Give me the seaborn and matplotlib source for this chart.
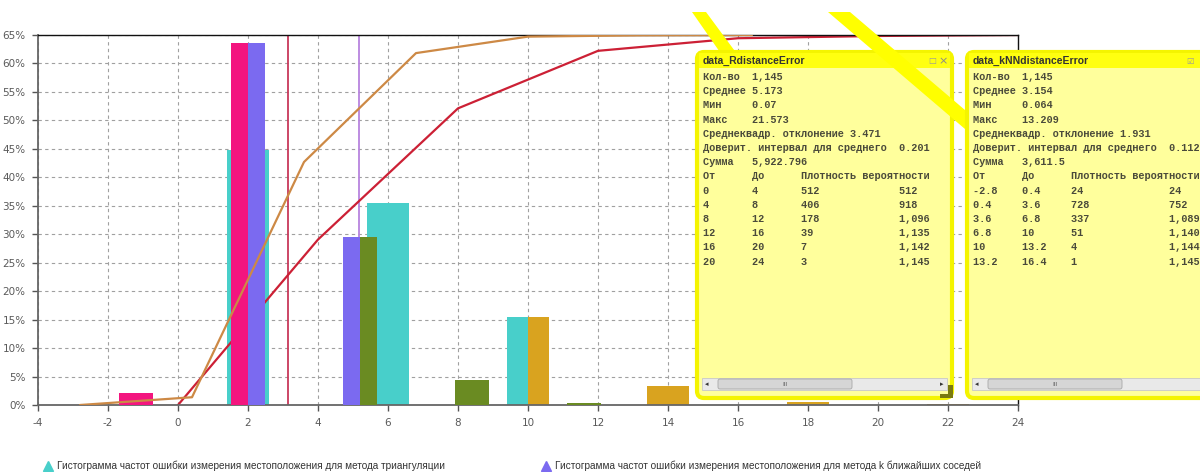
import numpy as np
import pandas as pd
import matplotlib
matplotlib.use("Agg")
import matplotlib.pyplot as plt
import seaborn as sns
from matplotlib.patches import FancyBboxPatch, Rectangle, Polygon
from matplotlib.lines import Line2D

# --- data ---
total = 1145
tri_edges = [0, 4, 8, 12, 16, 20, 24]
tri_counts = [512, 406, 178, 39, 7, 3]
knn_edges = [-2.8, 0.4, 3.6, 6.8, 10, 13.2, 16.4]
knn_counts = [24, 728, 337, 51, 4, 1]
tri_mean = 5.173
knn_mean = 3.154
y_top = 65

tri_name = "data_RdistanceError"
tri_stats = ["1,145", "5.173", "0.07", "21.573", "3.471", "0.201", "5,922.796"]
knn_name = "data_kNNdistanceError"
knn_stats = ["1,145", "3.154", "0.064", "13.209", "1.931", "0.112", "3,611.5"]

x_ticks = list(range(-4, 25, 2))
y_ticks = list(range(0, 66, 5))

legend_labels = [
    "Гистограмма частот ошибки измерения местоположения для метода триангуляции",
    "Гистограмма частот ошибки измерения местоположения для метода k ближайших соседей",
]

# colours of the left / right halves of each bar
CYAN, GOLD = "#48CFCA", "#D9A31F"
PINK, PURPLE, OLIVE = "#F3157F", "#7B6AF0", "#6A8B22"
tri_left = [CYAN, CYAN, CYAN, GOLD, GOLD, GOLD]
tri_right = [CYAN, CYAN, GOLD, GOLD, GOLD, GOLD]
knn_left = [PINK, PINK, PURPLE, OLIVE, OLIVE, OLIVE]
knn_right = [PINK, PURPLE, OLIVE, OLIVE, OLIVE, OLIVE]

W, H = 1200, 472

sns.set_theme(style="ticks")
plt.rcParams["font.family"] = ["DejaVu Sans"]
plt.rcParams["axes.unicode_minus"] = False

fig = plt.figure(figsize=(W / 100, H / 100), dpi=100)
ax = fig.add_axes([38 / W, 1 - 405 / H, 980 / W, 370 / H])


def hist_frame(edges, counts):
    e = np.array(edges, dtype=float)
    c = np.array(counts, dtype=float)
    return pd.DataFrame({
        "center": (e[:-1] + e[1:]) / 2,
        "width": np.diff(e) * 0.3,
        "pct": c / total * 100,
    })


def cum_frame(edges, counts):
    cum = np.concatenate([[0], np.cumsum(counts)])
    return pd.DataFrame({"x": edges, "y": cum / total * y_top})


tri = hist_frame(tri_edges, tri_counts)
knn = hist_frame(knn_edges, knn_counts)

# mean lines
ax.axvline(knn_mean, color="#C8385A", lw=1.3, zorder=1.5)
ax.axvline(tri_mean, color="#B783DE", lw=1.3, zorder=1.5)

# triangulation histogram (behind)
ax.bar(tri["center"] - tri["width"] / 4, tri["pct"], width=tri["width"] / 2,
       color=tri_left, zorder=2, linewidth=0)
ax.bar(tri["center"] + tri["width"] / 4, tri["pct"], width=tri["width"] / 2,
       color=tri_right, zorder=2, linewidth=0)

# cumulative curve of triangulation
sns.lineplot(data=cum_frame(tri_edges, tri_counts), x="x", y="y", ax=ax,
             color="#CC2035", lw=1.6, zorder=2.5, legend=False)

# kNN histogram
ax.bar(knn["center"] - knn["width"] / 4, knn["pct"], width=knn["width"] / 2,
       color=knn_left, zorder=3, linewidth=0)
ax.bar(knn["center"] + knn["width"] / 4, knn["pct"], width=knn["width"] / 2,
       color=knn_right, zorder=3, linewidth=0)

# cumulative curve of kNN
sns.lineplot(data=cum_frame(knn_edges, knn_counts), x="x", y="y", ax=ax,
             color="#CD8945", lw=1.6, zorder=4, legend=False)

ax.set_xlim(-4, 24)
ax.set_ylim(0, y_top)
ax.set_xticks(x_ticks)
ax.set_yticks(y_ticks)
ax.set_yticklabels([f"{v}%" for v in y_ticks])
ax.set_xlabel("")
ax.set_ylabel("")
ax.grid(True, color="#A0A0A0", linestyle=(0, (3, 3)), lw=0.8)
ax.set_axisbelow(True)
ax.tick_params(axis="both", labelsize=7.5, labelcolor="#5A5A5A", color="#555555",
               length=4, width=1, direction="out", pad=5)
for side in ["left", "bottom"]:
    ax.spines[side].set_color("#666666")
    ax.spines[side].set_linewidth(1.3)
for side in ["top", "right"]:
    ax.spines[side].set_color("#111111")
    ax.spines[side].set_linewidth(1.0)


# --- overlay: stat panels with pointers (pixel coords, y from top) ---
tr = fig.dpi_scale_trans


def P(x, y):
    return (x / 100, (H - y) / 100)


def band(pts, z):
    fig.add_artist(Polygon([P(*p) for p in pts], closed=True, transform=tr,
                           facecolor="#FFFF00", edgecolor="none", zorder=z))


def panel(x0, y0, x1, y1, title, stats, edges, counts, z):
    fig.add_artist(FancyBboxPatch(P(x0, y1), (x1 - x0) / 100, (y1 - y0) / 100,
                                  boxstyle="round,pad=0,rounding_size=0.07",
                                  transform=tr, facecolor="#FFFF9C",
                                  edgecolor="#F4F400", lw=3, zorder=z))
    fig.add_artist(Rectangle(P(x0 + 2, 68), (x1 - x0 - 4) / 100, 15 / 100,
                             transform=tr, facecolor="#FFFF10", edgecolor="none",
                             zorder=z + 0.1))
    fig.text(*P(x0 + 6, 61), title, transform=tr, fontsize=7.5, weight="bold",
             color="#333333", va="center", zorder=z + 0.2,
             family=["Liberation Sans"])
    labels = ["Кол-во", "Среднее", "Мин", "Макс"]
    lines = [f"{lab:<8}{val}" for lab, val in zip(labels, stats[:4])]
    lines.append(f"Среднеквадр. отклонение {stats[4]}")
    lines.append(f"Доверит. интервал для среднего  {stats[5]}")
    lines.append(f"{'Сумма':<8}{stats[6]}")
    lines.append(f"{'От':<8}{'До':<8}Плотность вероятности")
    cum = np.cumsum(counts)
    for i, c in enumerate(counts):
        lines.append(f"{edges[i]:<8g}{edges[i + 1]:<8g}{c:<16}{cum[i]:,}")
    for i, s in enumerate(lines):
        fig.text(*P(x0 + 6, 77 + i * 14.2), s, transform=tr, fontsize=7.4,
                 family=["Liberation Mono"], weight="bold", color="#4A4A3A",
                 va="center", zorder=z + 0.2)
    # scrollbar
    fig.add_artist(Rectangle(P(x0 + 5, 390), (x1 - x0 - 10) / 100, 12 / 100,
                             transform=tr, facecolor="#E9E9E9", edgecolor="#C8C8C8",
                             lw=0.6, zorder=z + 0.1))
    fig.add_artist(FancyBboxPatch(P(x0 + 21, 389), 134 / 100, 10 / 100,
                                  boxstyle="round,pad=0,rounding_size=0.02",
                                  transform=tr, facecolor="#D6D6D6",
                                  edgecolor="#A8A8A8", lw=0.6, zorder=z + 0.15))
    fig.text(*P(x0 + 88, 384), "III", transform=tr, fontsize=4.5, color="#666666",
             ha="center", va="center", zorder=z + 0.2)
    fig.text(*P(x0 + 10, 384), "◂", transform=tr, fontsize=5, color="#333333",
             ha="center", va="center", zorder=z + 0.2)
    if x1 - 10 < W - 6:
        fig.text(*P(x1 - 10, 384), "▸", transform=tr, fontsize=5, color="#333333",
                 ha="center", va="center", zorder=z + 0.2)


band([(692, 12), (706, 12), (740, 58), (724, 58)], 1)
panel(697, 52, 952, 398, tri_name, tri_stats, tri_edges, tri_counts, 2)
fig.text(*P(932, 61), "□", transform=tr, fontsize=6, color="#9A9A9A",
         ha="center", va="center", zorder=2.3)
fig.text(*P(943, 61), "×", transform=tr, fontsize=8, color="#8A8A8A",
         ha="center", va="center", zorder=2.3)
fig.add_artist(Polygon([P(953, 385), P(953, 398), P(940, 398), P(940, 394),
                        P(948, 394), P(948, 385)], transform=tr,
                       facecolor="#7A7A10", edgecolor="none", zorder=2.4))
band([(828, 12), (850, 12), (972, 116), (972, 135)], 4)
panel(967, 52, 1216, 398, knn_name, knn_stats, knn_edges, knn_counts, 5)
fig.text(*P(1190, 61), "☑", transform=tr, fontsize=6, color="#9A9A9A",
         ha="center", va="center", zorder=5.3)

# --- bottom legend ---
for (mx, col), lab in zip([(48, CYAN), (546, PURPLE)], legend_labels):
    fig.add_artist(Line2D([P(mx, 466)[0]], [P(mx, 466)[1]], transform=tr,
                          marker="^", markersize=6.5, color=col, lw=0))
    fig.text(*P(mx + 9, 466), lab, transform=tr, fontsize=7.2, color="#333333",
             va="center", family=["Liberation Sans"])

fig.savefig("out.png", dpi=100)
